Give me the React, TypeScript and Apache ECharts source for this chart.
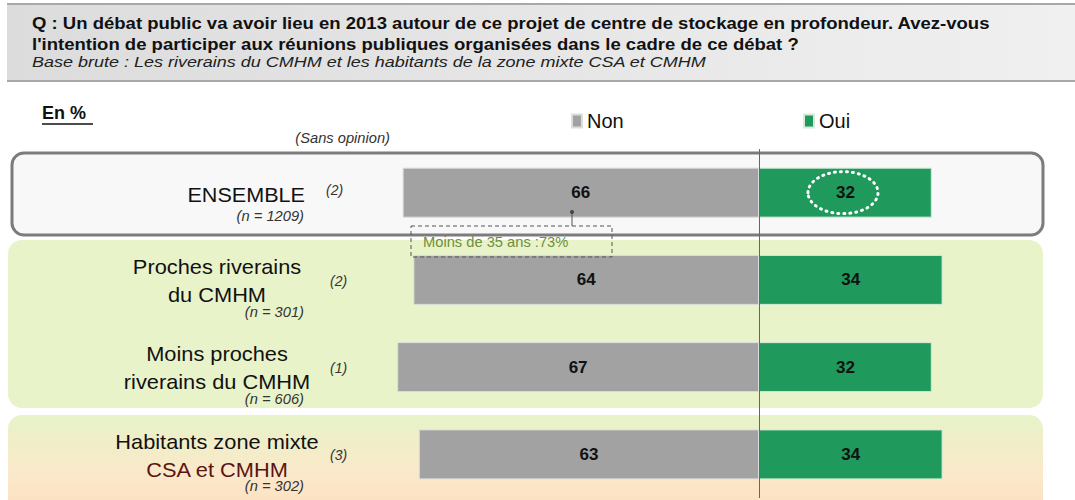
import React, { useEffect, useRef } from "react";
import * as echarts from "echarts";

const categories = ["ENSEMBLE", "Proches riverains du CMHM", "Moins proches riverains du CMHM", "Habitants zone mixte CSA et CMHM"];
const nonValues = [66, 64, 67, 63];
const ouiValues = [32, 34, 32, 34];
const sansOpinion = [2, 2, 1, 3];
const sampleSizes = [1209, 301, 606, 302];
const labelLines = [["ENSEMBLE"], ["Proches riverains", "du CMHM"], ["Moins proches", "riverains du CMHM"], ["Habitants zone mixte", "CSA et CMHM"]];
const titleLines = [
  "Q : Un débat public va avoir lieu en 2013 autour de ce projet de centre de stockage en profondeur. Avez-vous",
  "l'intention de participer aux réunions publiques organisées dans le cadre de ce débat ?",
];
const baseText = "Base brute : Les riverains du CMHM et les habitants de la zone mixte CSA et CMHM";
const annotationText = "Moins de 35 ans :73%";

const FONT = "Liberation Sans, Arial, sans-serif";
const GRID_TOP = 149;
const GRID_H = 349;
const rowCenter = (i: number) => GRID_TOP + ((i + 0.5) * GRID_H) / categories.length;

export default function App() {
  const ref = useRef<HTMLDivElement>(null);
  useEffect(() => {
    if (!ref.current) return;
    const chart = echarts.init(ref.current, null, { renderer: "svg" });
    const graphics: any[] = [];
    // header band
    graphics.push({
      type: "rect", z: 0,
      shape: { x: 7, y: 4, width: 1068, height: 77 },
      style: {
        fill: new echarts.graphic.LinearGradient(0, 0, 1, 0, [
          { offset: 0, color: "#dcdcdc" },
          { offset: 0.5, color: "#e6e6e6" },
          { offset: 1, color: "#f0f0f0" },
        ]),
      },
    });
    graphics.push({ type: "line", z: 1, shape: { x1: 7, y1: 4, x2: 1075, y2: 4 }, style: { stroke: "#a8a8a8", lineWidth: 2 } });
    graphics.push({ type: "line", z: 1, shape: { x1: 7, y1: 81, x2: 1075, y2: 81 }, style: { stroke: "#a8a8a8", lineWidth: 2 } });
    titleLines.forEach((t, i) => {
      graphics.push({
        type: "text", z: 5, x: 32, y: 23 + i * 21, scaleX: 1.09,
        style: { text: t, font: `bold 17px ${FONT}`, fill: "#111", verticalAlign: "middle" },
      });
    });
    graphics.push({
      type: "text", z: 5, x: 32, y: 62, scaleX: 1.2,
      style: { text: baseText, font: `italic 15px ${FONT}`, fill: "#222", verticalAlign: "middle" },
    });
    // En %
    graphics.push({ type: "text", z: 5, x: 42, y: 113, style: { text: "En %", font: `bold 18px ${FONT}`, fill: "#111", verticalAlign: "middle" } });
    graphics.push({ type: "line", z: 5, shape: { x1: 42, y1: 124, x2: 93, y2: 124 }, style: { stroke: "#111", lineWidth: 1.5 } });
    graphics.push({ type: "text", z: 5, x: 390, y: 138, scaleX: 1.05, style: { text: "(Sans opinion)", font: `italic 14px ${FONT}`, fill: "#333", align: "right", verticalAlign: "middle" } });
    // panels
    graphics.push({
      type: "rect", z: 0,
      shape: { x: 12, y: 153, width: 1031, height: 82, r: 12 },
      style: { fill: "#f8f8f8", stroke: "#7c7c7c", lineWidth: 3 },
    });
    graphics.push({
      type: "rect", z: 0,
      shape: { x: 8, y: 240, width: 1035, height: 168, r: 14 },
      style: { fill: "#e9f3ca" },
    });
    graphics.push({
      type: "rect", z: 0,
      shape: { x: 8, y: 415, width: 1035, height: 100, r: 14 },
      style: {
        fill: new echarts.graphic.LinearGradient(0, 0, 0, 1, [
          { offset: 0, color: "#e7f3c8" },
          { offset: 0.6, color: "#fbe8ca" },
          { offset: 1, color: "#fddfbf" },
        ]),
      },
    });
    // row labels
    labelLines.forEach((lines, i) => {
      const c = rowCenter(i);
      if (lines.length === 1) {
        graphics.push({ type: "text", z: 5, x: 305, y: c + 2, scaleX: 1.08, style: { text: lines[0], font: `20px ${FONT}`, fill: "#111", align: "right", verticalAlign: "middle" } });
        graphics.push({ type: "text", z: 5, x: 304, y: c + 23, scaleX: 1.05, style: { text: `(n = ${sampleSizes[i]})`, font: `italic 14px ${FONT}`, fill: "#333", align: "right", verticalAlign: "middle" } });
        graphics.push({ type: "text", z: 5, x: 326, y: c - 3, style: { text: `(${sansOpinion[i]})`, font: `italic 14px ${FONT}`, fill: "#333", verticalAlign: "middle" } });
      } else {
        lines.forEach((ln, j) => {
          graphics.push({
            type: "text", z: 5, x: 217, y: c - 13 + j * 28, scaleX: 1.09,
            style: { text: ln, font: `20px ${FONT}`, fill: i === 3 && j === 1 ? "#5a1414" : "#111", align: "center", verticalAlign: "middle" },
          });
        });
        graphics.push({ type: "text", z: 5, x: 304, y: c + 32, scaleX: 1.05, style: { text: `(n = ${sampleSizes[i]})`, font: `italic 14px ${FONT}`, fill: "#333", align: "right", verticalAlign: "middle" } });
        graphics.push({ type: "text", z: 5, x: 330, y: c + 1, style: { text: `(${sansOpinion[i]})`, font: `italic 14px ${FONT}`, fill: "#333", verticalAlign: "middle" } });
      }
    });
    // annotation
    graphics.push({ type: "rect", z: 6, shape: { x: 411, y: 226, width: 201, height: 31 }, style: { fill: "none", stroke: "#555", lineWidth: 1, lineDash: [4, 3] } });
    graphics.push({ type: "line", z: 6, shape: { x1: 572, y1: 212, x2: 572, y2: 226 }, style: { stroke: "#555", lineWidth: 1 } });
    graphics.push({ type: "circle", z: 6, shape: { cx: 572, cy: 212, r: 2 }, style: { fill: "#444" } });
    graphics.push({ type: "text", z: 6, x: 423, y: 242, scaleX: 1.05, style: { text: annotationText, font: `14px ${FONT}`, fill: "#6d8f3c", verticalAlign: "middle" } });
    // dotted ellipse
    graphics.push({ type: "ellipse", z: 6, shape: { cx: 843, cy: rowCenter(0), rx: 35, ry: 21 }, style: { fill: "none", stroke: "#ffffff", lineWidth: 3, lineDash: [1, 5], lineCap: "round" } });

    chart.setOption({
      animation: false,
      textStyle: { fontFamily: FONT },
      graphic: { elements: graphics },
      legend: [
        { data: ["Non"], left: 566, top: 106, icon: "rect", itemWidth: 10, itemHeight: 13, itemGap: 4, textStyle: { fontSize: 20, color: "#111", fontFamily: FONT }, selectedMode: false },
        { data: ["Oui"], left: 798, top: 106, icon: "rect", itemWidth: 10, itemHeight: 13, itemGap: 4, textStyle: { fontSize: 20, color: "#111", fontFamily: FONT }, selectedMode: false },
      ],
      grid: { left: 327, right: 46, top: GRID_TOP, height: GRID_H },
      xAxis: { type: "value", min: -80, max: 50, show: false },
      yAxis: { type: "category", data: categories, inverse: true, show: false },
      series: [
        {
          name: "Non", type: "bar", stack: "t", barWidth: 50, z: 3,
          data: nonValues.map((v) => -v),
          itemStyle: { color: "#a2a2a2", borderColor: "#dddddd", borderWidth: 1 },
          label: { show: true, position: "inside", formatter: (p: any) => String(Math.abs(p.value)), fontSize: 17, fontWeight: "bold", color: "#111", fontFamily: FONT },
          markLine: {
            silent: true, symbol: "none", label: { show: false },
            lineStyle: { color: "#666", width: 1, type: "solid" },
            data: [{ xAxis: 0 }],
          },
        },
        {
          name: "Oui", type: "bar", stack: "t", barWidth: 50, z: 3,
          data: ouiValues,
          itemStyle: { color: "#1f9a5c", borderColor: "#d6ecd9", borderWidth: 1 },
          label: { show: true, position: "inside", fontSize: 17, fontWeight: "bold", color: "#111", fontFamily: FONT },
        },
      ],
    });
    return () => chart.dispose();
  }, []);
  return <div ref={ref} style={{ position: "fixed", left: 0, top: 0, width: 1075, height: 500, background: "#fff" }} />;
}
